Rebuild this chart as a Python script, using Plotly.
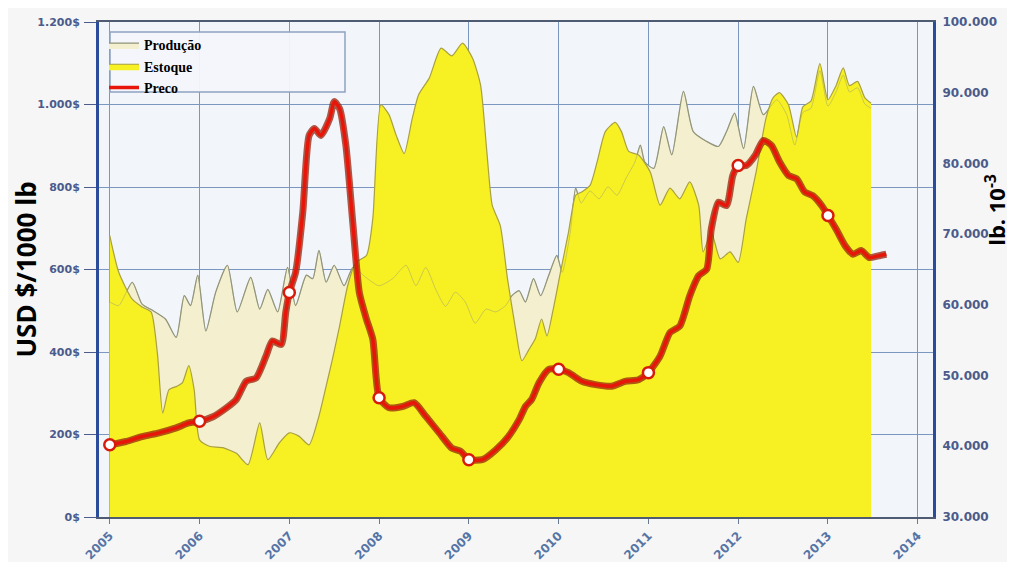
import plotly.graph_objects as go

# Produção (lb x 1000, right axis)
prod_t = [2005.00, 2005.10, 2005.25, 2005.36, 2005.48, 2005.62, 2005.74, 2005.83, 2005.90, 2005.98,
          2006.07, 2006.18, 2006.31, 2006.42, 2006.57, 2006.67, 2006.76, 2006.87, 2006.98,
          2007.07, 2007.19, 2007.26, 2007.33, 2007.41, 2007.50, 2007.61, 2007.71, 2007.85,
          2008.00, 2008.15, 2008.30, 2008.41, 2008.52, 2008.63, 2008.74, 2008.85, 2008.96,
          2009.07, 2009.19, 2009.30, 2009.41, 2009.48, 2009.56, 2009.63, 2009.72, 2009.80, 2009.89, 2009.98,
          2010.04, 2010.13, 2010.19, 2010.25, 2010.35, 2010.45, 2010.55, 2010.65, 2010.75, 2010.85, 2010.91, 2010.96,
          2011.06, 2011.17, 2011.26, 2011.39, 2011.50, 2011.65, 2011.78, 2011.87, 2011.96,
          2012.06, 2012.17, 2012.28, 2012.43, 2012.54, 2012.63, 2012.72, 2012.81, 2012.91,
          2013.00, 2013.09, 2013.17, 2013.24, 2013.33, 2013.41, 2013.48]
prod_v = [60.4, 59.9, 63.2, 60.1, 59.2, 58.0, 55.4, 61.3, 59.9, 64.2,
          56.3, 61.8, 65.6, 59.0, 63.9, 59.4, 62.2, 59.0, 65.3,
          59.9, 64.2, 63.7, 67.7, 63.2, 65.6, 62.7, 65.3, 63.9,
          62.7, 63.7, 65.6, 62.7, 65.3, 62.2, 59.8, 61.8, 60.4,
          57.4, 59.4, 59.0, 59.9, 61.3, 62.0, 60.4, 63.7, 61.3, 64.2, 67.0,
          64.6, 70.3, 76.5, 74.4, 76.1, 75.0, 76.7, 75.5, 77.9, 80.2, 82.6, 80.2,
          79.3, 85.2, 81.2, 90.2, 84.5, 83.1, 82.4, 84.5, 87.1,
          82.1, 90.9, 86.9, 89.0, 86.9, 82.6, 87.2, 87.8, 93.1,
          88.1, 90.1, 92.5, 90.1, 90.7, 88.4, 87.8]

# Estoque (lb x 1000, right axis)
est_t = [2005.00, 2005.10, 2005.25, 2005.36, 2005.46, 2005.53, 2005.59, 2005.66, 2005.75, 2005.81, 2005.88, 2005.94,
         2006.00, 2006.11, 2006.26, 2006.41, 2006.54, 2006.67, 2006.76, 2006.89,
         2007.00, 2007.11, 2007.22, 2007.32, 2007.41, 2007.48, 2007.56, 2007.65, 2007.74, 2007.86, 2007.93,
         2008.02, 2008.11, 2008.19, 2008.28, 2008.37, 2008.44, 2008.56, 2008.69, 2008.81, 2008.93,
         2009.04, 2009.13, 2009.20, 2009.26, 2009.35, 2009.43, 2009.52, 2009.59, 2009.67, 2009.74, 2009.81, 2009.87, 2009.94,
         2010.02, 2010.11, 2010.19, 2010.26, 2010.35, 2010.43, 2010.52, 2010.63, 2010.70, 2010.78, 2010.89,
         2011.02, 2011.13, 2011.24, 2011.35, 2011.46, 2011.56, 2011.61, 2011.70, 2011.80, 2011.91,
         2012.00, 2012.09, 2012.20, 2012.31, 2012.39, 2012.46, 2012.56, 2012.65, 2012.72, 2012.81, 2012.91,
         2013.00, 2013.09, 2013.17, 2013.24, 2013.33, 2013.41, 2013.48]
est_v = [69.8, 64.6, 60.8, 59.7, 59.0, 53.2, 44.7, 48.0, 48.5, 49.0, 51.4, 48.0,
         40.9, 40.0, 39.8, 39.0, 37.4, 43.3, 38.1, 40.5,
         41.9, 41.4, 40.2, 43.8, 48.5, 52.3, 57.0, 62.7, 66.0, 67.0, 72.2,
         88.3, 86.9, 84.0, 81.4, 86.4, 89.7, 92.1, 96.3, 95.2, 97.0,
         94.9, 91.1, 81.7, 74.1, 71.2, 63.7, 56.6, 52.1, 53.7, 55.2, 58.0, 55.6, 59.4,
         64.6, 70.3, 75.5, 76.0, 76.9, 80.3, 84.5, 85.8, 84.5, 81.7, 81.2,
         78.8, 74.1, 76.5, 75.0, 77.4, 74.1, 67.5, 70.3, 66.5, 67.5,
         66.0, 72.2, 78.8, 86.4, 89.3, 90.0, 88.3, 83.7, 88.0, 88.8, 94.1,
         89.0, 91.0, 93.5, 91.0, 91.6, 89.3, 88.5]

# Preco (USD $/1000 lb, left axis)
price_t = [2005.00, 2005.18, 2005.36, 2005.55, 2005.74, 2005.88,
           2006.00, 2006.15, 2006.29, 2006.41, 2006.52, 2006.63, 2006.74, 2006.81, 2006.91, 2006.96,
           2007.00, 2007.07, 2007.15, 2007.22, 2007.28, 2007.35, 2007.45, 2007.50, 2007.56, 2007.63,
           2007.71, 2007.78, 2007.86, 2007.93,
           2008.00, 2008.11, 2008.26, 2008.39, 2008.52, 2008.67, 2008.81, 2008.91,
           2009.00, 2009.15, 2009.30, 2009.44, 2009.56, 2009.63, 2009.70, 2009.78, 2009.89,
           2010.00, 2010.11, 2010.26, 2010.41, 2010.59, 2010.74, 2010.89,
           2011.00, 2011.13, 2011.24, 2011.35, 2011.46, 2011.56, 2011.65, 2011.70, 2011.78, 2011.87, 2011.94,
           2012.00, 2012.09, 2012.19, 2012.28, 2012.37, 2012.46, 2012.56, 2012.65, 2012.74, 2012.83, 2012.93,
           2013.00, 2013.09, 2013.19, 2013.28, 2013.37, 2013.46, 2013.56, 2013.65]
price_v = [175, 183, 195, 204, 216, 228,
           232, 243, 263, 285, 329, 337, 390, 427, 418, 496,
           544, 593, 739, 925, 942, 925, 966, 1007, 990, 901,
           706, 544, 479, 431,
           289, 265, 268, 277, 244, 204, 167, 159,
           139, 139, 163, 195, 236, 268, 285, 325, 358,
           358, 350, 329, 321, 317, 329, 333,
           350, 390, 447, 463, 536, 585, 601, 698, 763, 755, 828,
           852, 852, 877, 913, 901, 861, 828, 820, 788, 779, 755,
           731, 698, 658, 637, 646, 629, 633, 637]

years = list(range(2005, 2015))
left_ticks = [0, 200, 400, 600, 800, 1000, 1200]
left_labels = ["0$", "200$", "400$", "600$", "800$", "1.000$", "1.200$"]
right_ticks = [30, 40, 50, 60, 70, 80, 90, 100]
right_labels = ["30.000", "40.000", "50.000", "60.000", "70.000", "80.000", "90.000", "100.000"]

mark_t = [t for t in price_t if t == int(t)]
mark_v = [v for t, v in zip(price_t, price_v) if t == int(t)]

L_RANGE = [0, 1200]
R_RANGE = [30, 100]
# horizontal grid belongs to the left ($) ticks; drawn on the base axis so it stays under the areas
grid_on_right = [R_RANGE[0] + (v - L_RANGE[0]) * (R_RANGE[1] - R_RANGE[0]) / (L_RANGE[1] - L_RANGE[0])
                 for v in left_ticks]

spl = dict(shape="spline", smoothing=0.6)
fig = go.Figure()

# areas live on the base axis (shown on the right), price on the overlay (shown on the left)
fig.add_trace(go.Scatter(
    x=prod_t, y=prod_v, yaxis="y", name="Produção", mode="lines",
    fill="tozeroy", fillcolor="#f3efcf",
    line=dict(color="#8f9478", width=1.2, **spl),
    legendrank=1, hoverinfo="skip"
))
fig.add_trace(go.Scatter(
    x=est_t, y=est_v, yaxis="y", name="Estoque", mode="lines",
    fill="tozeroy", fillcolor="#f7f123",
    line=dict(color="#a9a040", width=1.2, **spl),
    legendrank=2, hoverinfo="skip"
))
fig.add_trace(go.Scatter(
    x=prod_t, y=prod_v, yaxis="y", mode="lines", showlegend=False,
    line=dict(color="rgba(150,150,120,0.45)", width=1, **spl),
    hoverinfo="skip"
))
fig.add_trace(go.Scatter(
    x=price_t, y=price_v, yaxis="y2", mode="lines", showlegend=False,
    line=dict(color="rgba(150,35,10,0.75)", width=7, **spl),
    hoverinfo="skip"
))
fig.add_trace(go.Scatter(
    x=price_t, y=price_v, yaxis="y2", mode="lines", name="Preco",
    line=dict(color="#e8160a", width=3.5, **spl),
    legendrank=3
))
fig.add_trace(go.Scatter(
    x=mark_t, y=mark_v, yaxis="y2", mode="markers", showlegend=False,
    marker=dict(size=11, color="white", line=dict(color="#d81a0a", width=2.5))
))

# page body adds 8px around the figure, so the figure is 8px smaller
W, H = 1007, 554
L, T = 91, 14
pw, ph = 834, 495

fig.update_layout(
    width=W, height=H,
    margin=dict(l=L, r=W - L - pw, t=T, b=H - T - ph),
    paper_bgcolor="#f6f6f6",
    plot_bgcolor="#f2f5f9",
    xaxis=dict(
        range=[2004.88, 2014.17], tickvals=years, ticktext=[str(y) for y in years],
        tickangle=-45, tickfont=dict(family="DejaVu Sans", size=12, color="#5574a6", weight="bold"),
        showgrid=True, gridcolor="#7b97bf", gridwidth=1.2, zeroline=False,
        showline=True, linecolor="#4f5b73", linewidth=2, mirror=True,
        ticks="outside", ticklen=5, tickcolor="#6a7a90", automargin=False
    ),
    yaxis=dict(
        range=R_RANGE, tickvals=right_ticks, ticktext=right_labels, side="right",
        tickfont=dict(family="DejaVu Sans", size=12, color="#4b5b8b", weight="bold"),
        showgrid=False, zeroline=False,
        minor=dict(tickmode="array", tickvals=grid_on_right, showgrid=True,
                   gridcolor="#7b97bf", gridwidth=1.2, ticks=""),
        showline=True, linecolor="#2a4c9b", linewidth=3, ticks="", ticklabelstandoff=4,
        automargin=False
    ),
    yaxis2=dict(
        range=L_RANGE, tickvals=left_ticks, ticktext=left_labels,
        overlaying="y", side="left",
        tickfont=dict(family="DejaVu Sans", size=11, color="#4b5b8b", weight="bold"),
        showgrid=False, zeroline=False,
        showline=True, linecolor="#2a4c9b", linewidth=3,
        ticks="outside", ticklen=12, tickcolor="#4b5b8b", ticklabelstandoff=2,
        title=dict(text="USD $/1000 lb", font=dict(family="Open Sans", size=26, color="black", weight="bold"),
                   standoff=6),
        automargin=False
    ),
    legend=dict(
        x=0.006, y=0.985, xanchor="left", yanchor="top",
        bgcolor="rgba(0,0,0,0)", borderwidth=0,
        font=dict(family="Liberation Serif", size=14, color="black", weight="bold"),
        tracegroupgap=0, itemwidth=30
    ),
    shapes=[dict(
        type="rect", xref="paper", yref="paper",
        x0=(110 - 99) / pw, x1=(345 - 99) / pw, y0=(517 - 92) / ph, y1=(517 - 32) / ph,
        line=dict(color="#8ea2c2", width=1.5), fillcolor="rgba(244,246,251,0.95)", layer="above"
    )],
    annotations=[dict(
        text="lb. 10<sup>-3</sup>", xref="paper", yref="paper",
        x=1.095, y=0.62, textangle=-90, showarrow=False,
        font=dict(family="Open Sans", size=22, color="black", weight="bold")
    )],
    showlegend=True
)

fig.write_html("out.html")
